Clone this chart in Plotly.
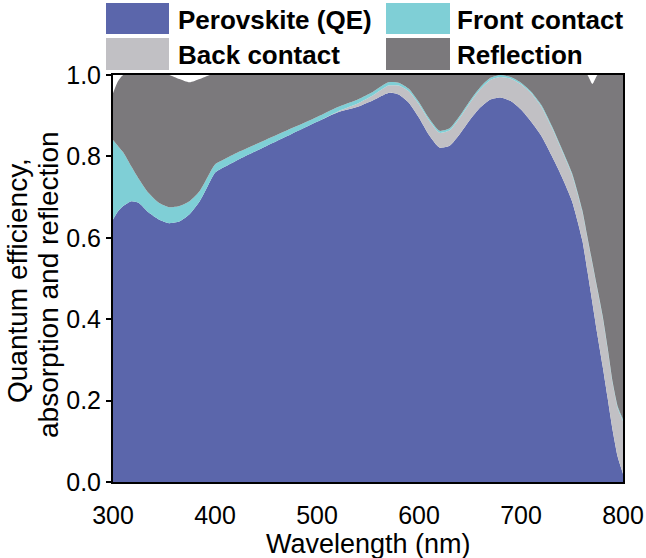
import plotly.graph_objects as go

# wavelength grid (nm)
wavelength = [300, 305, 310, 318, 325, 335, 345, 355, 365, 375, 385, 395, 400,
              410, 425, 450, 475, 500, 520, 540, 555, 570, 580, 590, 600,
              610, 620, 630, 640, 650, 660, 670, 680, 690, 700,
              710, 720, 730, 740, 750, 760,
              765, 770, 775, 780, 785, 790, 795, 800]

# upper edge of each stacked band
perovskite_top = [0.645, 0.665, 0.678, 0.690, 0.686, 0.662, 0.645, 0.636, 0.640, 0.658, 0.690, 0.738, 0.760,
                  0.775, 0.795, 0.825, 0.855, 0.885, 0.908, 0.922, 0.938, 0.956, 0.952, 0.932, 0.895,
                  0.852, 0.822, 0.826, 0.855, 0.890, 0.920, 0.940, 0.945, 0.936, 0.915,
                  0.885, 0.850, 0.802, 0.750, 0.690, 0.595,
                  0.520, 0.440, 0.360, 0.285, 0.205, 0.125, 0.060, 0.020]

back_top = [0.645, 0.665, 0.678, 0.690, 0.686, 0.662, 0.645, 0.636, 0.640, 0.658, 0.690, 0.738, 0.760,
            0.775, 0.795, 0.825, 0.855, 0.885, 0.910, 0.930, 0.950, 0.974, 0.974, 0.960, 0.928,
            0.888, 0.858, 0.864, 0.895, 0.932, 0.965, 0.988, 0.995, 0.991, 0.977,
            0.955, 0.922, 0.872, 0.815, 0.755, 0.665,
            0.600, 0.535, 0.470, 0.405, 0.325, 0.240, 0.180, 0.150]

front_top = [0.840, 0.825, 0.810, 0.775, 0.746, 0.710, 0.686, 0.675, 0.678, 0.690, 0.715, 0.760, 0.780,
             0.794, 0.813, 0.841, 0.869, 0.897, 0.921, 0.940, 0.959, 0.982, 0.981, 0.966, 0.933,
             0.893, 0.863, 0.869, 0.900, 0.937, 0.970, 0.993, 1.000, 0.995, 0.981,
             0.959, 0.926, 0.876, 0.819, 0.759, 0.669,
             0.604, 0.539, 0.474, 0.409, 0.329, 0.244, 0.184, 0.154]

reflection_top = [0.955, 0.985, 1.000, 1.000, 1.000, 1.000, 1.000, 1.000, 0.990, 0.982, 0.990, 1.000, 1.000,
                  1.000, 1.000, 1.000, 1.000, 1.000, 1.000, 1.000, 1.000, 1.000, 1.000, 1.000, 1.000,
                  1.000, 1.000, 1.000, 1.000, 1.000, 1.000, 1.000, 1.000, 1.000, 1.000,
                  1.000, 1.000, 1.000, 1.000, 1.000, 1.000,
                  1.000, 0.978, 1.000, 1.000, 1.000, 1.000, 1.000, 1.000]

x_ticks = [300, 400, 500, 600, 700, 800]
y_ticks = [0.0, 0.2, 0.4, 0.6, 0.8, 1.0]

colors = {"Perovskite (QE)": "#5b66ab", "Front contact": "#7fcfd6",
          "Back contact": "#c1c0c4", "Reflection": "#7b797c"}

FONT = "Liberation Sans, Arial, sans-serif"

fig = go.Figure()

# stacked bands: QE, back contact, front contact, reflection
bands = [("Perovskite (QE)", perovskite_top, "tozeroy"),
         ("Back contact", back_top, "tonexty"),
         ("Front contact", front_top, "tonexty"),
         ("Reflection", reflection_top, "tonexty")]
for name, top, fill in bands:
    fig.add_trace(go.Scatter(
        x=wavelength, y=top, name=name, mode="lines",
        line=dict(width=0, shape="spline", smoothing=0.6),
        fill=fill, fillcolor=colors[name], showlegend=False,
    ))

# plot area in pixels
W, H = 646, 558
L, R, T, B = 113, 623, 75, 482


def px_x(p):
    return (p - L) / (R - L)


def px_y(p):
    return (B - p) / (B - T)


# hand-made legend with big swatches above the plot
legend_cells = [("Perovskite (QE)", 106, 169, 3, 34, 177, 20),
                ("Front contact", 386, 450, 3, 34, 456, 20),
                ("Back contact", 106, 169, 38, 70, 177, 55),
                ("Reflection", 386, 450, 38, 70, 456, 55)]
for name, x0, x1, y0, y1, tx, ty in legend_cells:
    fig.add_shape(type="rect", xref="paper", yref="paper",
                  x0=px_x(x0), x1=px_x(x1), y0=px_y(y1), y1=px_y(y0),
                  fillcolor=colors[name], line=dict(width=0))
    fig.add_annotation(xref="paper", yref="paper", x=px_x(tx), y=px_y(ty),
                       text="<b>%s</b>" % name, showarrow=False,
                       xanchor="left", yanchor="middle", borderpad=0,
                       font=dict(family=FONT, size=26, color="black"))

# axis titles
fig.add_annotation(xref="paper", yref="paper", x=px_x(368), y=px_y(544),
                   text="Wavelength (nm)", showarrow=False,
                   xanchor="center", yanchor="middle", borderpad=0,
                   font=dict(family=FONT, size=27, color="black"))
y_title_lines = [("Quantum efficiency,", 17, 281), ("absorption and reflection", 48, 285)]
for text, cx, cy in y_title_lines:
    fig.add_annotation(xref="paper", yref="paper", x=px_x(cx), y=px_y(cy),
                       text=text, showarrow=False, textangle=-90,
                       xanchor="center", yanchor="middle", borderpad=0,
                       font=dict(family=FONT, size=28, color="black"))

fig.update_layout(
    width=W, height=H,
    margin=dict(l=L, r=W - R, t=T, b=H - B, autoexpand=False),
    paper_bgcolor="white", plot_bgcolor="white",
    font=dict(family=FONT, size=25, color="black"),
)

fig.update_xaxes(
    range=[300, 800], tickvals=x_ticks, automargin=False,
    showline=True, linecolor="black", linewidth=2, mirror=True,
    ticks="", ticklabelstandoff=10, showgrid=False, zeroline=False,
)
fig.update_yaxes(
    range=[0, 1], tickvals=y_ticks, tickformat=".1f", automargin=False,
    showline=True, linecolor="black", linewidth=2, mirror=True,
    ticks="outside", ticklen=5, tickwidth=2, tickcolor="black",
    showgrid=False, zeroline=False,
)

# drop the default page margin so the 646x558 figure fills the window exactly
fig.write_html("out.html", config={"displayModeBar": False},
               post_script="document.body.style.margin = '0';")
